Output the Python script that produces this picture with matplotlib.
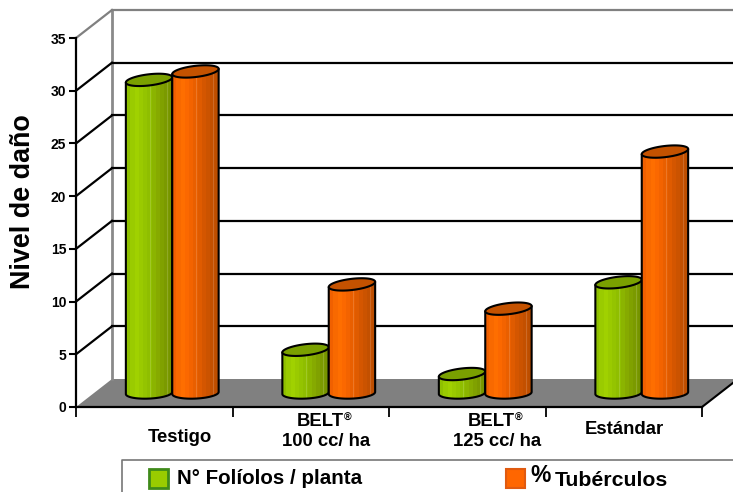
#!/usr/bin/env python3
"""Pseudo-3D cylinder chart: Nivel de dano por tratamiento."""

import numpy as np
import matplotlib
matplotlib.use("Agg")
import matplotlib.pyplot as plt
from matplotlib.colors import LinearSegmentedColormap
from matplotlib.patches import Polygon, Rectangle

plt.rcParams["font.family"] = ["Liberation Sans", "DejaVu Sans"]
plt.rcParams["font.weight"] = "bold"

categories = ["Testigo", "BELT®\n100 cc/ ha", "BELT®\n125 cc/ ha", "Estándar"]
folioles = [29.7, 4.1, 1.8, 10.5]
tuberculos = [30.5, 10.3, 8.0, 22.9]
y_ticks = [0, 5, 10, 15, 20, 25, 30, 35]
series_names = ["N° Folíolos / planta", "Tubérculos"]

W, H = 733, 492
X0, X1, Y0, Y35 = 76, 702, 407, 38  # front plane in pixels
DEPTH_PX, RISE_PX = 36, 28

fig = plt.figure(figsize=(W / 100, H / 100), dpi=100, facecolor="white")
ax = fig.add_axes([X0 / W, 1 - Y0 / H, (X1 - X0) / W, (Y0 - Y35) / H])
ax.set_xlim(0, 4)
ax.set_ylim(0, 35)
ax.patch.set_visible(False)

px_x = (X1 - X0) / 4
px_y = (Y0 - Y35) / 35
dx = DEPTH_PX / px_x
dy = RISE_PX / px_y

# walls and floor
ax.add_patch(Polygon([(0, 0), (4, 0), (4 + dx, dy), (dx, dy)], fc="#808080", ec="none",
                     clip_on=False, zorder=1))
ax.plot([dx, dx], [dy, 35 + dy], color="#8a8a8a", lw=2, clip_on=False, zorder=1.5)
for v in y_ticks[1:]:
    c = "#808080" if v == 35 else "black"
    ax.plot([0, dx], [v, v + dy], color=c, lw=1.6, clip_on=False, zorder=1.5)
    ax.plot([dx, 4 + dx], [v + dy, v + dy], color=c, lw=1.6, clip_on=False, zorder=1.5)
ax.plot([4, 4 + dx], [0, dy], color="black", lw=1.5, clip_on=False, zorder=2)

# front axes
for s in ("top", "right"):
    ax.spines[s].set_visible(False)
for s in ("left", "bottom"):
    ax.spines[s].set_linewidth(1.6)
    ax.spines[s].set_zorder(2)
ax.set_yticks(y_ticks)
ax.set_xticks(range(5))
ax.set_xticklabels([])
ax.tick_params(axis="y", length=5, width=1.5, labelsize=10, pad=2)
ax.tick_params(axis="x", length=7, width=1.3)

green_cm = LinearSegmentedColormap.from_list(
    "g", ["#8fc000", "#a2d400", "#98c800", "#90bf00", "#88ad00", "#7f9f00", "#769400"])
orange_cm = LinearSegmentedColormap.from_list(
    "o", ["#f06000", "#ff7000", "#fa6600", "#ea6000", "#d85800", "#c85200", "#bc4e00"])


def shaded(cmap):
    # banded shading with the thin light seams of the source chart
    u = np.floor(np.linspace(0, 0.999, 64) * 11) / 10
    rgb = cmap(u)[np.newaxis, :, :3]
    for col in (9, 33, 56):
        rgb[0, col] = rgb[0, col] * 0.85 + 0.15
    return rgb


A = 23.2 / px_x  # half width
B = 5.6 / px_y   # half height of the ellipse
TILT = 2.6 / px_y


def ring(cx, v, tilt):
    t = np.linspace(0, 2 * np.pi, 90)
    return cx + A * np.cos(t), v + B * np.sin(t) + tilt * np.cos(t)


def cylinder(cx, value, cmap, top_color, z):
    base = dy / 2
    top = base + value
    xb, yb = ring(cx, base, TILT * 0.4)
    xt, yt = ring(cx, top, TILT)
    lower = np.sin(np.linspace(0, 2 * np.pi, 90)) <= 0
    order = np.argsort(xb[lower])
    xs = np.r_[xb[lower][order], [cx + A, cx - A]]
    ys = np.r_[yb[lower][order], [top + TILT, top - TILT]]
    ax.add_patch(Polygon(np.c_[xs, ys], fc="none", ec="black", lw=1.5, clip_on=False,
                         zorder=z + 0.2, joinstyle="round"))
    img = ax.imshow(shaded(cmap), aspect="auto", zorder=z, interpolation="nearest",
                    extent=[cx - A, cx + A, base - B - TILT, top + TILT])
    img.set_clip_path(Polygon(np.c_[xs, ys], transform=ax.transData))
    ax.add_patch(Polygon(np.c_[xt, yt], fc=top_color, ec="black", lw=1.5, clip_on=False,
                         zorder=z + 0.3))


SPREAD = 23.2 / px_x
for i in range(len(categories)):
    mid = i + 0.5 + dx / 2
    cylinder(mid - SPREAD, folioles[i], green_cm, "#7aa000", 3 + i)
    cylinder(mid + SPREAD, tuberculos[i], orange_cm, "#c45200", 3.5 + i)
ax.set_xlim(0, 4)
ax.set_ylim(0, 35)


def ptext(x, y, s, **kw):
    kw.setdefault("ha", "center")
    kw.setdefault("va", "center")
    return fig.text(x / W, 1 - y / H, s, **kw)


# category labels sit by hand, as in the source slide
label_xy = [(179.5, 437), (326, 432), (497, 431.5), (624.5, 430)]
for (lx, ly), name in zip(label_xy, categories):
    if "®" in name:
        head, tail = name.split("\n")
        head = head.replace("®", "")
        t = ptext(lx - 5.5, ly - 10, head, fontsize=13.3)
        box = t.get_window_extent(fig.canvas.get_renderer())
        ptext(box.x1, ly - 14, "®", fontsize=7.5, ha="left")
        ptext(lx, ly + 10, tail, fontsize=13.3)
    else:
        ptext(lx, ly, name, fontsize=13.3)

ptext(23, 202, "Nivel de daño", fontsize=19.4, rotation=90)

# legend box, cut by the image edge
fig.add_artist(plt.Line2D([122 / W, 122 / W, 1], [0, 1 - 460 / H, 1 - 460 / H],
                          color="#777777", lw=1.2))
fig.add_artist(Rectangle((149 / W, 1 - 488 / H), 19 / W, 19 / H, fc="#99cc00", ec="#3f8a1a",
                         lw=2, transform=fig.transFigure))
fig.add_artist(Rectangle((505.5 / W, 1 - 488 / H), 19 / W, 19 / H, fc="#ff6600", ec="#e05a10",
                         lw=1.5, transform=fig.transFigure))
ptext(177, 479, series_names[0], fontsize=14.8, ha="left")
ptext(530, 475, "%", fontsize=16.5, ha="left")
ptext(555, 480, series_names[1], fontsize=15.3, ha="left")

fig.savefig("out.png", dpi=100, facecolor="white")
